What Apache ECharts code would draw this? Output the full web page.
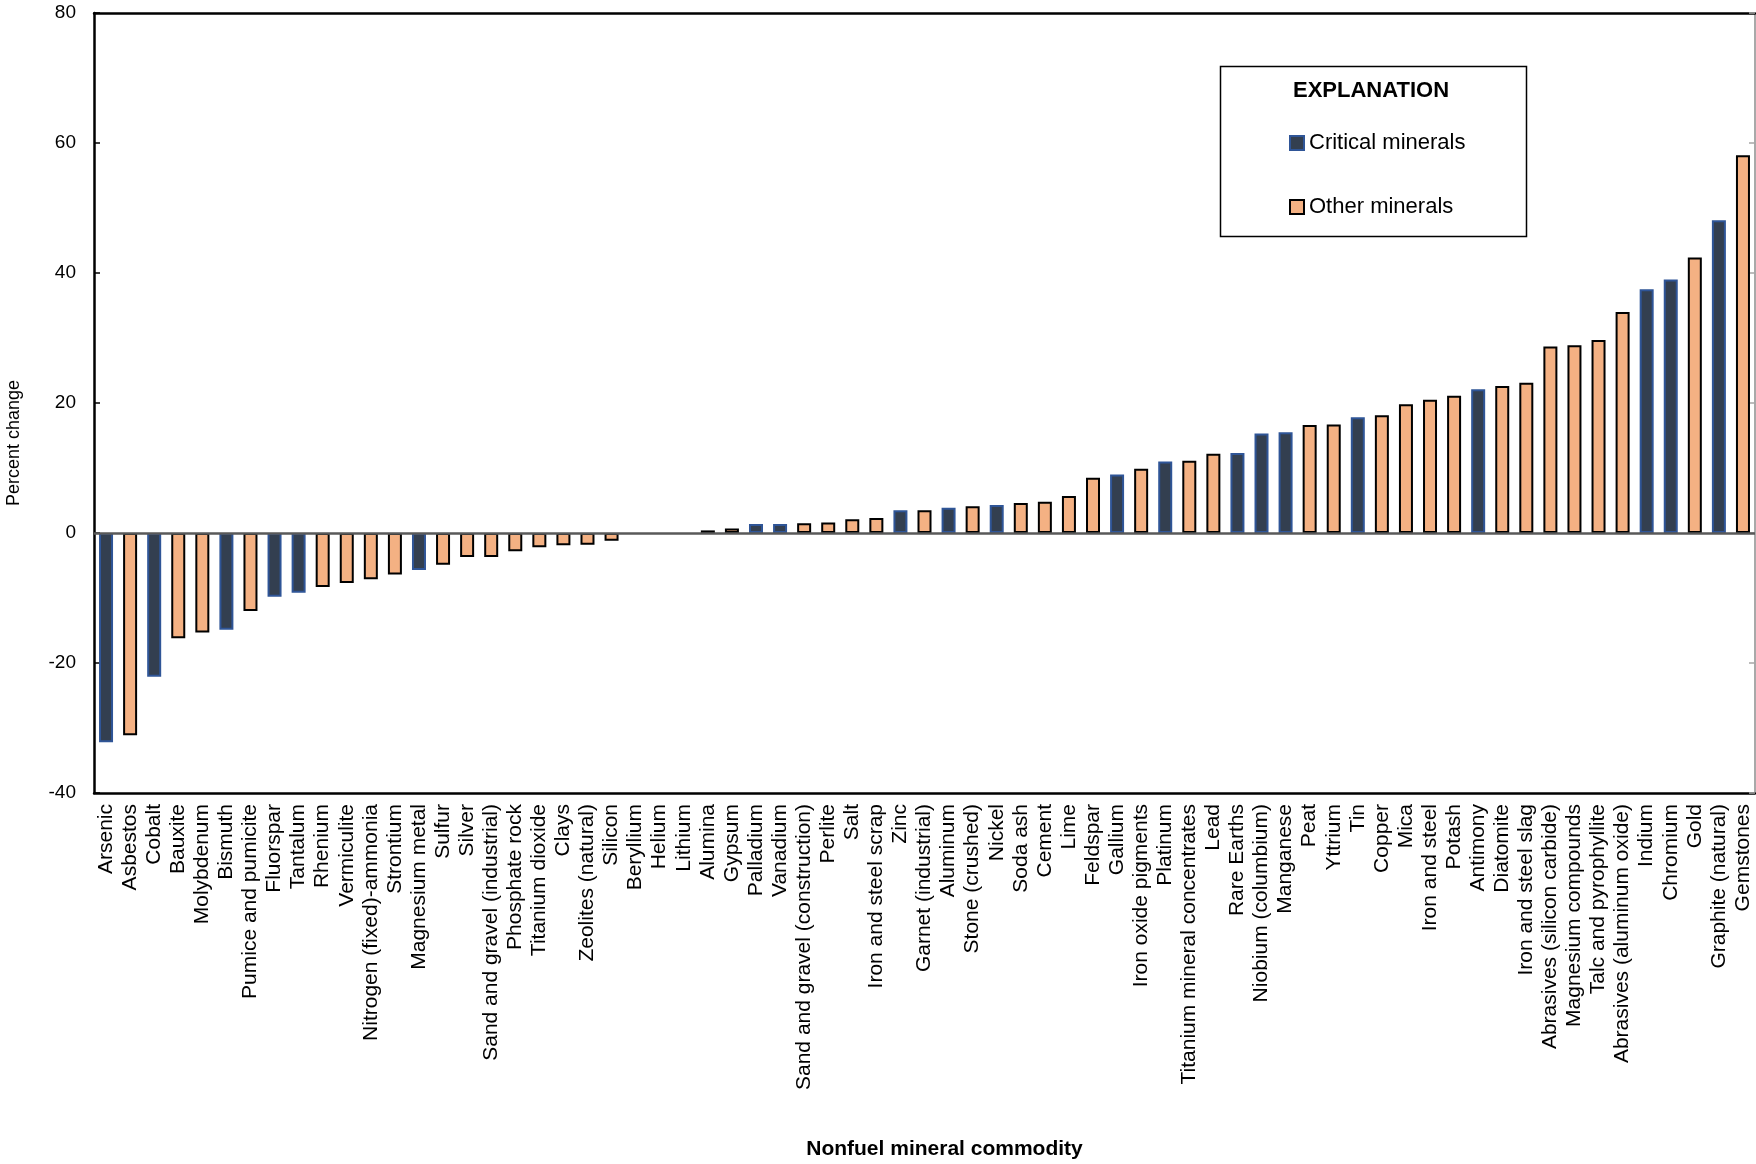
<!DOCTYPE html>
<html>
<head>
<meta charset="utf-8">
<style>
html,body{margin:0;padding:0;background:#fff;}
#chart{width:1756px;height:1164px;}
</style>
<script src="https://cdn.jsdelivr.net/npm/echarts@6/dist/echarts.min.js"></script>
</head>
<body>
<div id="chart"></div>
<script>
const categories = ["Arsenic","Asbestos","Cobalt","Bauxite","Molybdenum","Bismuth","Pumice and pumicite","Fluorspar","Tantalum","Rhenium","Vermiculite","Nitrogen (fixed)-ammonia","Strontium","Magnesium metal","Sulfur","Silver","Sand and gravel (industrial)","Phosphate rock","Titanium dioxide","Clays","Zeolites (natural)","Silicon","Beryllium","Helium","Lithium","Alumina","Gypsum","Palladium","Vanadium","Sand and gravel (construction)","Perlite","Salt","Iron and steel scrap","Zinc","Garnet (industrial)","Aluminum","Stone (crushed)","Nickel","Soda ash","Cement","Lime","Feldspar","Gallium","Iron oxide pigments","Platinum","Titanium mineral concentrates","Lead","Rare Earths","Niobium (columbium)","Manganese","Peat","Yttrium","Tin","Copper","Mica","Iron and steel","Potash","Antimony","Diatomite","Iron and steel slag","Abrasives (silicon carbide)","Magnesium compounds","Talc and pyrophyllite","Abrasives (aluminum oxide)","Indium","Chromium","Gold","Graphite (natural)","Gemstones"];
const values = [-32.2,-31.1,-22.1,-16.2,-15.3,-14.9,-12.0,-9.8,-9.2,-8.3,-7.7,-7.1,-6.4,-5.7,-4.9,-3.7,-3.7,-2.8,-2.2,-1.9,-1.8,-1.2,0,0,0,0.4,0.7,1.4,1.4,1.5,1.6,2.1,2.3,3.5,3.5,3.9,4.1,4.3,4.6,4.8,5.7,8.5,9.0,9.9,11.0,11.1,12.2,12.3,15.3,15.5,16.6,16.7,17.8,18.1,19.8,20.5,21.1,22.1,22.6,23.1,28.7,28.9,29.7,34.0,37.5,39.0,42.4,48.1,58.1];
const criticalMinerals = ["Arsenic","Cobalt","Bismuth","Fluorspar","Tantalum","Magnesium metal","Palladium","Vanadium","Zinc","Aluminum","Nickel","Gallium","Platinum","Rare Earths","Niobium (columbium)","Manganese","Tin","Antimony","Indium","Chromium","Graphite (natural)"];
const yTicks = {min: -40, max: 80, interval: 20};

const REG = "'Liberation Sans',Arial,sans-serif";

function item(v) {
  // zero-change commodities have no visible bar
  return v === 0 ? {value: v, itemStyle: {borderWidth: 0}} : v;
}
const criticalData = values.map((v, i) => criticalMinerals.includes(categories[i]) ? item(v) : null);
const otherData = values.map((v, i) => criticalMinerals.includes(categories[i]) ? null : item(v));

const chart = echarts.init(document.getElementById('chart'), null, {renderer: 'canvas'});
chart.setOption({
  animation: false,
  backgroundColor: '#ffffff',
  grid: {left: 94, right: 1, top: 13, bottom: 371, containLabel: false, outerBoundsMode: 'none'},
  xAxis: [{
    type: 'category',
    data: categories,
    position: 'bottom',
    axisLine: {show: true, onZero: false, lineStyle: {color: '#000', width: 2.5}},
    axisTick: {show: false},
    axisLabel: {interval: 0, rotate: 90, margin: 11, fontFamily: REG, fontSize: 21, color: '#000'},
    name: 'Nonfuel mineral commodity',
    nameLocation: 'middle',
    nameGap: 346,
    nameTextStyle: {fontFamily: REG, fontSize: 21, fontWeight: 'bold', color: '#000', padding: [0, 0, 0, 40]}
  }, {
    type: 'category',
    data: categories,
    position: 'top',
    axisLine: {show: true, onZero: false, lineStyle: {color: '#000', width: 2.5}},
    axisTick: {show: false},
    axisLabel: {show: false}
  }],
  yAxis: [{
    type: 'value',
    min: yTicks.min, max: yTicks.max, interval: yTicks.interval,
    position: 'left',
    axisLine: {show: true, onZero: false, lineStyle: {color: '#000', width: 2.5}},
    axisTick: {show: true, inside: true, length: 6, lineStyle: {color: '#000', width: 1.5}},
    splitLine: {show: false},
    axisLabel: {margin: 18, fontFamily: REG, fontSize: 19, color: '#000'},
    name: 'Percent change',
    nameLocation: 'middle',
    nameRotate: 90,
    nameGap: 71,
    nameTextStyle: {fontFamily: REG, fontSize: 18, color: '#000', padding: [0, 80, 0, 0]}
  }, {
    type: 'value',
    min: yTicks.min, max: yTicks.max, interval: yTicks.interval,
    position: 'right',
    axisLine: {show: true, onZero: false, lineStyle: {color: '#8c8c8c', width: 1.5}},
    axisTick: {show: true, inside: true, length: 6, lineStyle: {color: '#a6a6a6', width: 1.5}},
    splitLine: {show: false},
    axisLabel: {show: false}
  }],
  legend: {
    orient: 'vertical',
    left: 1289, top: 130,
    padding: 0,
    itemWidth: 14, itemHeight: 14,
    itemGap: 38,
    icon: 'rect',
    textStyle: {fontFamily: REG, fontSize: 22, color: '#000', lineHeight: 26},
    data: ['Critical minerals', 'Other minerals']
  },
  graphic: [{
    type: 'rect',
    left: 1218, top: 64,
    shape: {width: 306, height: 170},
    style: {fill: 'none', stroke: '#000', lineWidth: 1.5},
    z: 10
  }, {
    type: 'text',
    x: 1371, y: 91,
    style: {text: 'EXPLANATION', fontFamily: REG, fontSize: 22, fontWeight: 'bold', fill: '#000', align: 'center', verticalAlign: 'middle'},
    z: 10
  }],
  series: [{
    name: 'Critical minerals',
    type: 'bar',
    data: criticalData,
    barWidth: 14,
    barGap: '-100%',
    itemStyle: {color: '#333F50', borderColor: '#2F5597', borderWidth: 2},
    markLine: {
      silent: true, symbol: 'none', label: {show: false},
      lineStyle: {color: '#595959', width: 2.5, type: 'solid'},
      data: [{yAxis: 0}]
    }
  }, {
    name: 'Other minerals',
    type: 'bar',
    data: otherData,
    barWidth: 14,
    barGap: '-100%',
    itemStyle: {color: '#F4B183', borderColor: '#000000', borderWidth: 2}
  }]
});
</script>
</body>
</html>
